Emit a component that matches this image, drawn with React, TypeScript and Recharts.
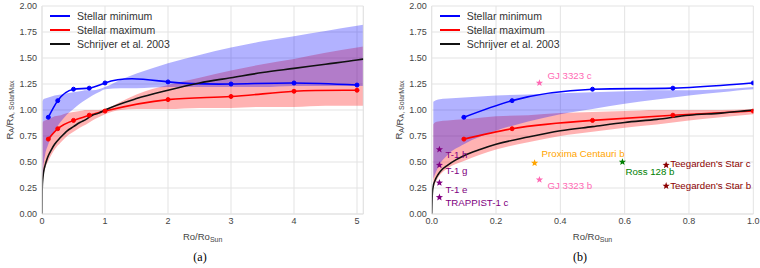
import { Area, CartesianGrid, ComposedChart, Line, ReferenceLine, Scatter, XAxis, YAxis } from "recharts";

// shaded ranges, sampled along Ro/Ro_sun
const bandX = [0.005, 0.01, 0.02, 0.05, 0.1, 0.2, 0.3, 0.4, 0.5, 0.6, 0.7, 0.8, 0.9, 1.0, 1.25, 1.5, 2, 2.5, 3, 3.5, 4, 4.5, 5, 5.1];
const minLow = [0.34, 0.38, 0.45, 0.57, 0.67, 0.8, 0.89, 0.96, 1.01, 1.06, 1.1, 1.14, 1.17, 1.2, 1.21, 1.21, 1.22, 1.22, 1.22, 1.22, 1.23, 1.23, 1.23, 1.23];
const minHigh = [1.08, 1.09, 1.1, 1.11, 1.12, 1.14, 1.15, 1.16, 1.17, 1.18, 1.19, 1.19, 1.2, 1.22, 1.29, 1.35, 1.45, 1.53, 1.6, 1.66, 1.71, 1.76, 1.81, 1.82];
const maxLow = [0.25, 0.29, 0.35, 0.44, 0.51, 0.62, 0.69, 0.75, 0.79, 0.83, 0.86, 0.9, 0.93, 0.96, 1.0, 1.01, 1.01, 1.02, 1.02, 1.03, 1.03, 1.04, 1.04, 1.04];
const maxHigh = [0.86, 0.88, 0.89, 0.9, 0.91, 0.94, 0.95, 0.97, 0.98, 0.99, 1.0, 1.0, 1.0, 1.01, 1.08, 1.15, 1.24, 1.31, 1.38, 1.44, 1.49, 1.55, 1.6, 1.61];

// Schrijver et al. 2003 relation
const curveX = [0, 0.002, 0.005, 0.01, 0.02, 0.03, 0.05, 0.075, 0.1, 0.15, 0.2, 0.3, 0.4, 0.5, 0.6, 0.7, 0.8, 0.9, 1.0, 1.5, 2, 2.5, 3, 3.5, 4, 4.5, 5, 5.1];
const curveY = [0, 0.2, 0.27, 0.32, 0.38, 0.42, 0.47, 0.52, 0.56, 0.62, 0.67, 0.74, 0.8, 0.84, 0.88, 0.91, 0.95, 0.97, 1.0, 1.11, 1.19, 1.26, 1.31, 1.36, 1.4, 1.44, 1.48, 1.49];

// model points
const modelX = [0.1, 0.25, 0.5, 0.75, 1, 2, 3, 4, 5];
const stellarMin = [0.93, 1.09, 1.2, 1.21, 1.26, 1.27, 1.25, 1.26, 1.24];
const stellarMax = [0.72, 0.82, 0.9, 0.95, 0.99, 1.1, 1.13, 1.18, 1.19];

// planets
const trappist = [
  { name: "T-1 h", x: 0.024, y: 0.62 },
  { name: "T-1 g", x: 0.024, y: 0.47 },
  { name: "T-1 e", x: 0.024, y: 0.3 },
  { name: "TRAPPIST-1 c", x: 0.024, y: 0.16 }
];
const gj3323 = [
  { name: "GJ 3323 c", x: 0.335, y: 1.26 },
  { name: "GJ 3323 b", x: 0.335, y: 0.33 }
];
const proxima = [{ name: "Proxima Centauri b", x: 0.32, y: 0.49 }];
const ross = [{ name: "Ross 128 b", x: 0.593, y: 0.5 }];
const teegarden = [
  { name: "Teegarden's Star c", x: 0.729, y: 0.47 },
  { name: "Teegarden's Star b", x: 0.729, y: 0.27 }
];

const yTicks = [0, 0.25, 0.5, 0.75, 1, 1.25, 1.5, 1.75, 2];

const labelOffset: Record<string, [number, number]> = {
  "T-1 h": [6, 5],
  "T-1 g": [6, 5],
  "T-1 e": [6, 7],
  "TRAPPIST-1 c": [6, 5],
  "GJ 3323 c": [8, -7],
  "GJ 3323 b": [8, 6],
  "Proxima Centauri b": [7, -9],
  "Ross 128 b": [3, 10],
  "Teegarden's Star c": [4, -2],
  "Teegarden's Star b": [4, 0]
};

const bandData = bandX.map((x, i) => ({ x, maxBand: [maxLow[i], maxHigh[i]], minBand: [minLow[i], minHigh[i]] }));
const curveData = curveX.map((x, i) => ({ x, y: curveY[i] }));
const minData = modelX.map((x, i) => ({ x, y: stellarMin[i] }));
const maxData = modelX.map((x, i) => ({ x, y: stellarMax[i] }));

const FONT = "'Liberation Sans', Arial, sans-serif";
const GRID = "#e3e3e3";
const TICK = { fill: "#444", fontSize: 9, fontFamily: FONT };

// natural cubic spline y(x), like the interpolated model lines of the original
const splineOverX = (context: any) => {
  let xs: number[] = [];
  let ys: number[] = [];
  return {
    areaStart() {},
    areaEnd() {},
    lineStart() {
      xs = [];
      ys = [];
    },
    point(x: number, y: number) {
      xs.push(+x);
      ys.push(+y);
    },
    lineEnd() {
      const n = xs.length;
      if (!n) return;
      context.moveTo(xs[0], ys[0]);
      if (n < 3) {
        for (let i = 1; i < n; i++) context.lineTo(xs[i], ys[i]);
        return;
      }
      const h = xs.slice(1).map((x, i) => x - xs[i]);
      const M = new Array(n).fill(0);
      const c: number[] = new Array(n).fill(0);
      const d: number[] = new Array(n).fill(0);
      for (let i = 1; i < n - 1; i++) {
        const a = h[i - 1];
        const b = 2 * (h[i - 1] + h[i]);
        const cc = h[i];
        const r = 6 * ((ys[i + 1] - ys[i]) / h[i] - (ys[i] - ys[i - 1]) / h[i - 1]);
        const den = b - a * c[i - 1];
        c[i] = cc / den;
        d[i] = (r - a * d[i - 1]) / den;
      }
      for (let i = n - 2; i >= 1; i--) M[i] = d[i] - c[i] * M[i + 1];
      const slope = (i: number) =>
        i < n - 1
          ? (ys[i + 1] - ys[i]) / h[i] - (h[i] * (2 * M[i] + M[i + 1])) / 6
          : (ys[i] - ys[i - 1]) / h[i - 1] + (h[i - 1] * (M[i - 1] + 2 * M[i])) / 6;
      for (let i = 0; i < n - 1; i++) {
        const s0 = slope(i);
        const s1 = slope(i + 1);
        const k = h[i] / 3;
        context.bezierCurveTo(xs[i] + k, ys[i] + s0 * k, xs[i + 1] - k, ys[i + 1] - s1 * k, xs[i + 1], ys[i + 1]);
      }
    }
  };
};

const starShape = (color: string) => (props: any) => {
  const { cx, cy, payload } = props;
  const pts: string[] = [];
  for (let k = 0; k < 10; k++) {
    const r = k % 2 === 0 ? 3.8 : 1.6;
    const a = -Math.PI / 2 + (k * Math.PI) / 5;
    pts.push(`${cx + r * Math.cos(a)},${cy + r * Math.sin(a)}`);
  }
  const [dx, dy] = labelOffset[payload.name] ?? [6, 0];
  return (
    <g>
      <polygon fill={color} points={pts.join(" ")} />
      <text dy="0.35em" fill={color} fontFamily={FONT} fontSize={9.7} x={cx + dx} y={cy + dy}>
        {payload.name}
      </text>
    </g>
  );
};

const legendItems = [
  { color: "#0000ff", label: "Stellar minimum" },
  { color: "#ff0000", label: "Stellar maximum" },
  { color: "#111", label: "Schrijver et al. 2003" }
];

interface PanelProps {
  caption: string;
  plotLeft: number;
  right: number;
  xMax: number;
  xTicks: number[];
  xFormat: (v: number) => string;
  planets?: boolean;
}

function Panel({ caption, plotLeft, right, xMax, xTicks, xFormat, planets }: PanelProps) {
  const plotRight = 380 - right;
  const midX = (plotLeft + plotRight) / 2;
  const lx = plotLeft - 33;

  return (
    <div style={{ height: 268, position: "relative", width: 380 }}>
      <ComposedChart height={250} margin={{ bottom: 0, left: 0, right, top: 6 }} width={380}>
        <CartesianGrid stroke={GRID} strokeWidth={1} />
        <XAxis
          allowDataOverflow
          axisLine={{ stroke: GRID }}
          dataKey="x"
          domain={[0, xMax]}
          height={36}
          label={{
            content: () => (
              <text fill="#444" fontFamily={FONT} fontSize={9.5} textAnchor="middle" x={midX} y={240}>
                Ro/Ro
                <tspan dy={2} fontSize={7}>
                  Sun
                </tspan>
              </text>
            )
          }}
          tick={TICK}
          tickFormatter={xFormat}
          tickLine={false}
          tickMargin={2}
          tickSize={2}
          ticks={xTicks}
          type="number"
        />
        <YAxis
          allowDataOverflow
          axisLine={{ stroke: GRID }}
          domain={[0, 2]}
          label={{
            content: () => (
              <text
                dominantBaseline="central"
                fill="#444"
                fontFamily={FONT}
                fontSize={9.5}
                textAnchor="middle"
                transform={`rotate(-90, ${lx}, 110)`}
                x={lx}
                y={110}
              >
                R
                <tspan dy={2} fontSize={7}>
                  A
                </tspan>
                <tspan dy={-2}>/R</tspan>
                <tspan dy={2} fontSize={7}>
                  A, SolarMax
                </tspan>
              </text>
            )
          }}
          tick={TICK}
          tickFormatter={(v: number) => v.toFixed(2)}
          tickLine={false}
          tickMargin={3}
          tickSize={2}
          ticks={yTicks}
          type="number"
          width={plotLeft}
        />
        {xMax > 1 && <ReferenceLine stroke={GRID} x={xMax} />}
        <Area data={bandData} dataKey="maxBand" fill="#ff0000" fillOpacity={0.3} isAnimationActive={false} stroke="none" type="monotone" />
        <Area data={bandData} dataKey="minBand" fill="#0000ff" fillOpacity={0.3} isAnimationActive={false} stroke="none" type="monotone" />
        <Line
          data={maxData}
          dataKey="y"
          dot={{ fill: "#ff0000", r: 2, stroke: "#ff0000", strokeWidth: 1 }}
          isAnimationActive={false}
          stroke="#ff0000"
          strokeWidth={1.6}
          type={splineOverX as any}
        />
        <Line
          data={minData}
          dataKey="y"
          dot={{ fill: "#0000ff", r: 2, stroke: "#0000ff", strokeWidth: 1 }}
          isAnimationActive={false}
          stroke="#0000ff"
          strokeWidth={1.6}
          type={splineOverX as any}
        />
        <Line data={curveData} dataKey="y" dot={false} isAnimationActive={false} stroke="#111" strokeWidth={1.6} type="monotone" />
        {planets && <Scatter data={trappist} dataKey="y" isAnimationActive={false} shape={starShape("#800080")} />}
        {planets && <Scatter data={gj3323} dataKey="y" isAnimationActive={false} shape={starShape("#ff69b4")} />}
        {planets && <Scatter data={proxima} dataKey="y" isAnimationActive={false} shape={starShape("#ffa500")} />}
        {planets && <Scatter data={ross} dataKey="y" isAnimationActive={false} shape={starShape("#008000")} />}
        {planets && <Scatter data={teegarden} dataKey="y" isAnimationActive={false} shape={starShape("#8b0000")} />}
      </ComposedChart>

      <div style={{ left: plotLeft + 8, position: "absolute", top: 9 }}>
        {legendItems.map((item) => (
          <div key={item.label} style={{ alignItems: "center", display: "flex", height: 14 }}>
            <div style={{ background: item.color, height: 2, marginRight: 7, width: 20 }} />
            <span style={{ color: "#333", fontFamily: FONT, fontSize: 10.5 }}>{item.label}</span>
          </div>
        ))}
      </div>

      <div
        style={{
          fontFamily: "'Liberation Serif', 'DejaVu Serif', serif",
          fontSize: 12,
          left: 0,
          position: "absolute",
          textAlign: "center",
          top: 250,
          width: 400
        }}
      >
        {caption}
      </div>
    </div>
  );
}

export default function App() {
  return (
    <div style={{ background: "#fff", display: "flex", height: 268, left: 0, position: "absolute", top: 0, width: 760 }}>
      <Panel caption="(a)" plotLeft={42} right={16.7} xFormat={(v) => String(v)} xMax={5.1} xTicks={[0, 1, 2, 3, 4, 5]} />
      <Panel
        caption="(b)"
        planets
        plotLeft={51.7}
        right={6.7}
        xFormat={(v) => v.toFixed(1)}
        xMax={1}
        xTicks={[0, 0.2, 0.4, 0.6, 0.8, 1]}
      />
    </div>
  );
}
